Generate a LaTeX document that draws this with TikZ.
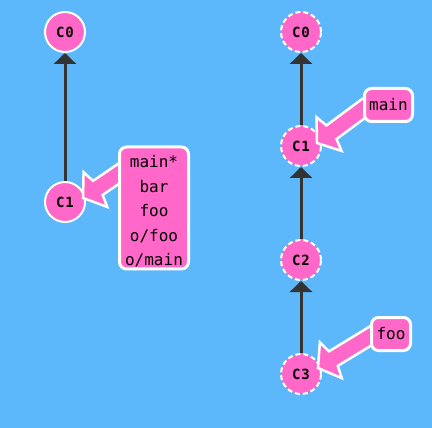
\documentclass[tikz,border=0pt]{standalone}
\usepackage{fontspec}
\newfontfamily\monofont{DejaVu Sans Mono}
\usetikzlibrary{arrows.meta,calc}
\definecolor{bg}{RGB}{92,184,250}
\definecolor{pinkc}{RGB}{255,104,200}
\definecolor{edgec}{RGB}{51,51,51}
\pgfdeclarelayer{bgfill}
\pgfdeclarelayer{edges}
\pgfsetlayers{bgfill,edges,main}
\tikzset{
  commit/.style={circle, fill=pinkc, draw=white, line width=2pt, minimum size=40pt, inner sep=0pt,
    font=\fontsize{14}{14}\monofont\bfseries\selectfont},
  dcommit/.style={commit, dash pattern=on 5pt off 3pt},
  parent/.style={draw=edgec, line width=3pt, -{Triangle[width=22pt,length=11pt]}},
  branchbox/.style={fill=pinkc, draw=white, line width=3pt, rounded corners=7pt, inner sep=0pt,
    font=\monofont\fontsize{16}{24.5}\selectfont, align=center},
  fatarrow/.style={fill=pinkc, draw=white, line width=2.5pt, line join=miter},
}
\newcommand\branchptr[2]{% #1 tail, #2 tip
  \draw[fatarrow] (#2)
    -- ($(#2)!15pt!(#1)!21pt!90:(#1)$)
    -- ($(#2)!18pt!(#1)!8.5pt!90:(#1)$)
    -- ($(#1)!8.5pt!-90:(#2)$)
    -- ($(#1)!8.5pt!90:(#2)$)
    -- ($(#2)!18pt!(#1)!8.5pt!-90:(#1)$)
    -- ($(#2)!15pt!(#1)!21pt!-90:(#1)$)
    -- cycle;}
\begin{document}
\begin{tikzpicture}[x=1pt,y=-1pt]
\begin{pgfonlayer}{bgfill}
\fill[bg] (0,0) rectangle (432,428);
\end{pgfonlayer}
\useasboundingbox (0,0) rectangle (432,428);
% commits
\node[commit] (c0L) at (65,32) {C\kern1pt0};
\node[commit] (c1L) at (65,202) {C\kern1pt1};
\node[dcommit] (c0R) at (301,32) {C\kern1pt0};
\node[dcommit] (c1R) at (301,146) {C\kern1pt1};
\node[dcommit] (c2R) at (301,260) {C\kern1pt2};
\node[dcommit] (c3R) at (301,374) {C\kern1pt3};
% parent edges
\begin{pgfonlayer}{edges}
\draw[parent] (c1L) -- (c0L);
\draw[parent] (c1R) -- (c0R);
\draw[parent] (c2R) -- (c1R);
\draw[parent] (c3R) -- (c2R);
\end{pgfonlayer}
% branch label positions (boxes)
\path (154,208) coordinate (boxLpos) (388.5,105) coordinate (boxMpos) (391,334) coordinate (boxFpos);
\coordinate (tipL) at ($(c1L.center)+(18,-4)$);
\coordinate (tailL) at ($(boxLpos)+(-24,-42)$);
\coordinate (tipM) at ($(c1R.center)+(16,-3)$);
\coordinate (tailM) at ($(boxMpos)+(-13.5,-5)$);
\coordinate (tipF) at ($(c3R.center)+(17,-6)$);
\coordinate (tailF) at ($(boxFpos)+(-9,-5)$);
\branchptr{tailL}{tipL}
\branchptr{tailM}{tipM}
\branchptr{tailF}{tipF}
% boxes
\node[branchbox, minimum width=69pt, minimum height=122pt] (boxL) at (boxLpos)
  {\rule{0pt}{20.5pt}main*\\bar\\foo\\o/foo\\o/main\rule[-3.5pt]{0pt}{3.5pt}};
\node[branchbox, minimum width=48pt, minimum height=33pt] (boxM) at (boxMpos) {main};
\node[branchbox, minimum width=39pt, minimum height=33pt] (boxF) at (boxFpos) {foo};
\end{tikzpicture}
\end{document}
